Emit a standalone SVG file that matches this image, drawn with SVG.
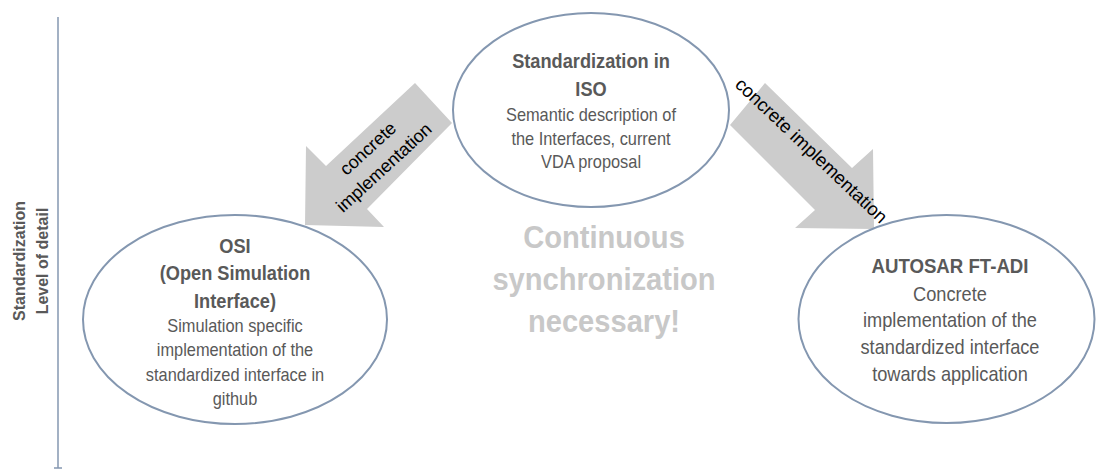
<svg xmlns="http://www.w3.org/2000/svg" width="1096" height="470" viewBox="0 0 1096 470">
<style>
.ell{fill:#ffffff;stroke:#8497b0;stroke-width:2}
.arr{fill:#cccccc;stroke:none}
.t{font-family:"Liberation Sans",Arial,sans-serif;fill:#595959;text-anchor:middle}
.b{font-weight:bold}
.lbl{font-family:"Liberation Sans",Arial,sans-serif;fill:#000000;text-anchor:middle}
.big{font-family:"Liberation Sans",Arial,sans-serif;fill:#c8c8c8;font-weight:bold;font-size:32px;text-anchor:middle}
</style>
<rect width="1096" height="470" fill="#ffffff"/>
<g id="axis">
<line x1="58" y1="17" x2="58" y2="468" stroke="#8497b0" stroke-width="1.5"/>
<line x1="54" y1="468" x2="62" y2="468" stroke="#8497b0" stroke-width="1.5"/>
<text class="t b" font-size="16" transform="translate(25,261) rotate(-90)" x="0" y="0">Standardization</text>
<text class="t b" font-size="16" transform="translate(48,261) rotate(-90)" x="0" y="0">Level of detail</text>
</g>
<g id="connectors">
<g id="arrow-left">
<polygon class="arr" points="415,83 452,123 367,209 384,227 305,225 306,146 326,166"/>
<g transform="translate(372,153) rotate(-42.5)"><text class="lbl" font-size="18" x="0" y="0">concrete</text></g>
<g transform="translate(388,172) rotate(-42.5)"><text class="lbl" font-size="18" x="0" y="0">implementation</text></g>
</g>
<g id="arrow-right">
<polygon class="arr" points="765,83 852,168 873,149 874,229 795,228 815,210 730,125"/>
<g transform="translate(807,155) rotate(43.5)"><text class="lbl" font-size="18.5" x="0" y="0">concrete implementation</text></g>
</g>
</g>
<g id="node-iso">
<ellipse class="ell" cx="591" cy="110" rx="138" ry="97"/>
<g transform="translate(591,0) scale(0.91,1)">
<text class="t b" font-size="20" x="0" y="68">Standardization in</text>
<text class="t b" font-size="20" x="0" y="96">ISO</text>
<text class="t" font-size="18" x="0" y="121">Semantic description of</text>
<text class="t" font-size="18" x="0" y="145">the Interfaces, current</text>
<text class="t" font-size="18" x="0" y="168">VDA proposal</text>
</g>
</g>
<g id="node-osi">
<ellipse class="ell" cx="235" cy="319.5" rx="152" ry="104.5"/>
<g transform="translate(235,0) scale(0.91,1)">
<text class="t b" font-size="20" x="0" y="253">OSI</text>
<text class="t b" font-size="20" x="0" y="280">(Open Simulation</text>
<text class="t b" font-size="20" x="0" y="308">Interface)</text>
<text class="t" font-size="18" x="0" y="332">Simulation specific</text>
<text class="t" font-size="18" x="0" y="356">implementation of the</text>
<text class="t" font-size="18" x="0" y="381">standardized interface in</text>
<text class="t" font-size="18" x="0" y="405">github</text>
</g>
</g>
<g id="node-autosar">
<ellipse class="ell" cx="946.5" cy="319" rx="148" ry="104"/>
<g transform="translate(950,0) scale(0.91,1)">
<text class="t b" font-size="20.5" x="0" y="273">AUTOSAR FT-ADI</text>
<text class="t" font-size="20" x="0" y="301">Concrete</text>
<text class="t" font-size="20" x="0" y="327">implementation of the</text>
<text class="t" font-size="20" x="0" y="354">standardized interface</text>
<text class="t" font-size="20" x="0" y="381">towards application</text>
</g>
</g>
<g id="note">
<g transform="translate(604,0) scale(0.91,1)">
<text class="big" x="0" y="248">Continuous</text>
<text class="big" x="0" y="290">synchronization</text>
<text class="big" x="0" y="332">necessary!</text>
</g>
</g>
</svg>
